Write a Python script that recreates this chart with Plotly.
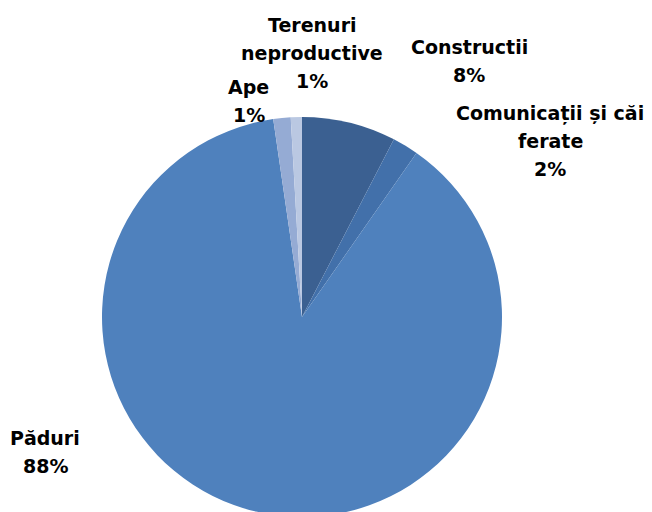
import plotly.graph_objects as go

categories = ["Construcții", "Comunicații și căi ferate", "Păduri", "Ape", "Terenuri neproductive"]
label_lines = [["Constructii"], ["Comunicații și căi", "ferate"], ["Păduri"], ["Ape"], ["Terenuri", "neproductive"]]
values = [7.6, 2.1, 88.0, 1.4, 0.9]
colors = ["#3B6091", "#4270AA", "#4F81BD", "#95ABD4", "#BAC8E2"]

# label anchor (centre x, first line centre y) in screen pixels
label_pos = [(469, 47), (550, 113), (45, 438), (249, 87), (312, 25)]

W, H = 652, 512
OFF = 8          # page body margin
LINE = 28        # line spacing in px
total = sum(values)

cx, cy, r = 302 - OFF, 317 - OFF, 200
fig = go.Figure(go.Pie(
    labels=categories,
    values=values,
    marker=dict(colors=colors, line=dict(width=0)),
    sort=False,
    direction="clockwise",
    rotation=0,
    textinfo="none",
    hoverinfo="label+percent",
    domain=dict(x=[(cx - r) / W, (cx + r) / W], y=[(H - cy - r) / H, (H - cy + r) / H]),
    showlegend=False,
))

annotations = []
for lines, v, (px, py) in zip(label_lines, values, label_pos):
    all_lines = lines + [f"{round(v / total * 100)}%"]
    for i, line in enumerate(all_lines):
        annotations.append(dict(
            x=(px - OFF) / W, y=1 - (py - OFF + i * LINE) / H, xref="paper", yref="paper",
            xanchor="center", yanchor="middle", showarrow=False,
            text=f"<b>{line}</b>",
            font=dict(family="DejaVu Sans", size=19, color="#000000"),
            align="center",
        ))

fig.update_layout(
    width=W, height=H,
    margin=dict(l=0, r=0, t=0, b=0),
    paper_bgcolor="white",
    plot_bgcolor="white",
    annotations=annotations,
)

fig.write_html("out.html")
